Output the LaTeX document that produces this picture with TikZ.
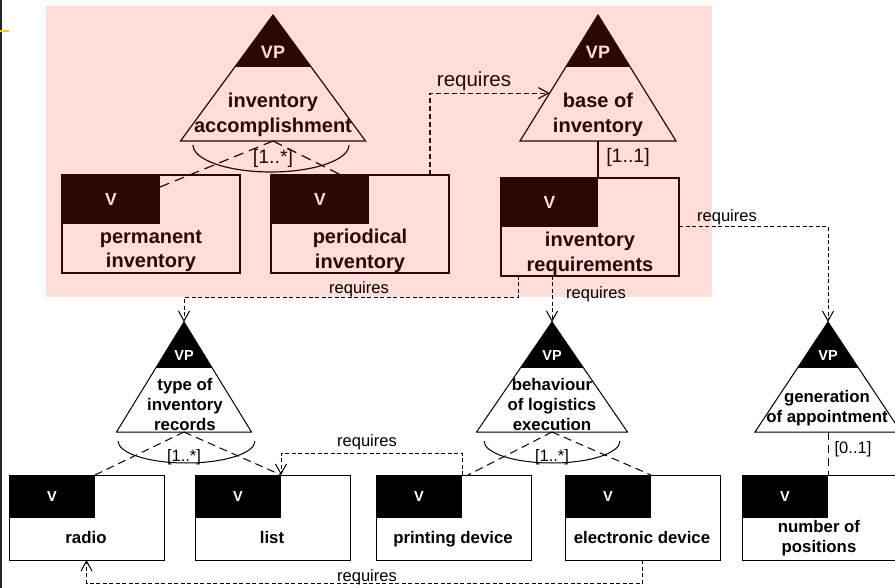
\documentclass[tikz,border=0pt]{standalone}
\usepackage{fontspec}
\setmainfont{Liberation Sans}
\usetikzlibrary{arrows.meta,calc}

\definecolor{pinkbg}{RGB}{255,221,216}
\definecolor{darkbrown}{RGB}{43,8,3}
\definecolor{markeryellow}{RGB}{250,208,0}

\tikzset{
  vplabel/.style={inner sep=0pt, font=\fontsize{14.5}{16}\selectfont\bfseries},
  boxframe/.style={draw, rectangle, inner sep=0pt, outer sep=0pt},
  vblock/.style={fill, rectangle, inner sep=0pt, outer sep=0pt, font=\fontsize{14.5}{16}\selectfont\bfseries},
  nametext/.style={align=center, inner sep=0pt, font=\fontsize{16.8}{20}\selectfont\bfseries},
  multtext/.style={inner sep=0pt, font=\fontsize{16.5}{20}\selectfont},
  reqtext/.style={inner sep=0pt, font=\fontsize{16.5}{20}\selectfont},
  altline/.style={dash pattern=on 8pt off 5pt},
  reqline/.style={dash pattern=on 4pt off 2.5pt, -{Straight Barb[length=10pt,width=11pt]}},
}

% variation point: name, apex x, apex y, half width, base y, band y
\newcommand{\vptri}[6]{%
  \coordinate (#1-apex) at (#2,#3);
  \coordinate (#1-l) at ({#2-#4},#5);
  \coordinate (#1-r) at ({#2+#4},#5);
  \coordinate (#1-b) at (#2,#5);
  \pgfmathsetmacro{\bandfrac}{(#6-#3)/(#5-#3)}
  \fill (#1-apex) -- ($(#1-apex)!\bandfrac!(#1-l)$) -- ($(#1-apex)!\bandfrac!(#1-r)$) -- cycle;
  \draw (#1-apex) -- (#1-l) -- (#1-r) -- cycle;
  \pgfmathsetmacro{\vpy}{#3+0.72*(#6-#3)}
  \node[vplabel] (#1-vp) at (#2,\vpy) {VP};
}

% variant: name, x, y, width, height, block width, block height
\newcommand{\variantbox}[7]{%
  \node[boxframe, minimum width=#4, minimum height=#5, anchor=north west] (#1) at (#2,#3) {};
  \node[vblock, minimum width=#6, minimum height=#7, anchor=north west] (#1-v) at (#1.north west) {V};
}

\begin{document}
\begin{tikzpicture}[x=1pt,y=-1pt]
\useasboundingbox (0,0) rectangle (895,588);
\fill[pinkbg] (46,6) rectangle (712,297);
\fill[black!85] (0,0) rectangle (2,588);
\draw[markeryellow, line width=2pt] (0,31) -- (9,31);

% upper part
\begin{scope}[darkbrown, line width=1.2pt,
  vplabel/.append style={text=pinkbg, font=\fontsize{18}{20}\selectfont\bfseries},
  vblock/.append style={text=pinkbg, font=\fontsize{17.5}{20}\selectfont\bfseries},
  nametext/.append style={font=\fontsize{20}{24.5}\selectfont\bfseries},
  multtext/.append style={font=\fontsize{19.5}{24}\selectfont},
  reqtext/.append style={font=\fontsize{20.5}{24}\selectfont},
  altline/.append style={dash pattern=on 10pt off 6pt},
  reqline/.append style={dash pattern=on 5pt off 3pt}]

\vptri{ia}{273}{15}{92.5}{141}{67}
\node[nametext] (ia-name) at (273,115) {inventory\\accomplishment};
\vptri{bi}{598}{15}{78}{141}{67}
\node[nametext] (bi-name) at (598,115) {base of\\inventory};

\variantbox{perm}{62}{175}{178}{98}{98}{49}
\node[nametext] (perm-name) at (151,251) {permanent\\inventory};
\variantbox{peri}{271}{175}{178}{98}{98}{49}
\node[nametext] (peri-name) at (360,251) {periodical\\inventory};
\variantbox{ireq}{501}{178}{178}{98}{97}{49}
\node[nametext] (ireq-name) at (590,254) {inventory\\requirements};

\draw ($(ia-b)+(-80,4)$) arc[start angle=180, end angle=0, x radius=78, y radius=27];
\node[multtext] (ia-mult) at (273,158) {[1..*]};
\draw[altline] (ia-b) -- ($(perm-v.north east)+(0,12)$);
\draw[altline] (ia-b) -- ($(peri.north west)+(70,0)$);

\draw (bi-b) -- (ireq-v.north east);
\node[multtext] (bi-mult) at (628,157) {[1..1]};

\draw[reqline] ($(peri.north west)+(159,0)$) |- ($(bi-apex)!0.62!(bi-l)$);
\node[reqtext] (req-a) at (474,81) {requires};
\end{scope}

% lower part
\begin{scope}[black, line width=1pt,
  vplabel/.append style={text=white},
  vblock/.append style={text=white}]

\vptri{tr}{184}{322}{67.5}{432}{368}
\node[nametext] (tr-name) at (185,404) {type of\\inventory\\records};
\vptri{be}{552}{322}{75.5}{432}{368}
\node[nametext] (be-name) at (552,404) {behaviour\\of logistics\\execution};
\vptri{ga}{828}{322}{73}{432}{368}
\node[nametext] (ga-name) at (827,408) {generation\\of appointment};

\variantbox{radio}{9}{475}{155}{85}{86}{43}
\node[nametext, anchor=base] (radio-name) at (86,543) {radio};
\variantbox{list}{195}{475}{155}{85}{86}{43}
\node[nametext, anchor=base] (list-name) at (272,543) {list};
\variantbox{pd}{376}{475}{155}{85}{86}{43}
\node[nametext, anchor=base] (pd-name) at (453,543) {printing device};
\variantbox{ed}{565}{475}{155}{85}{86}{43}
\node[nametext, anchor=base] (ed-name) at (642,543) {electronic device};
\variantbox{nop}{742}{475}{160}{85}{86}{43}
\node[nametext] (nop-name) at (819,538) {number of\\positions};

\draw ($(tr-b)+(-66,9)$) arc[start angle=180, end angle=0, x radius=68.5, y radius=22];
\node[multtext] (tr-mult) at (184,457) {[1..*]};
\draw[altline] (tr-b) -- (radio-v.north east);
\draw[altline] (tr-b) -- (list-v.north east);

\draw ($(be-b)+(-68,9)$) arc[start angle=180, end angle=0, x radius=68, y radius=22];
\node[multtext] (be-mult) at (552,457) {[1..*]};
\draw[altline] (be-b) -- ($(pd-v.north east)+(6,0)$);
\draw[altline] (be-b) -- (ed-v.north east);

\draw[altline] (ga-b) -- (nop-v.north east);
\node[multtext] (ga-mult) at (853,449) {[0..1]};

% requires dependencies
\draw[reqline] (ireq.east) -| (ga-apex);
\node[reqtext] (req-b) at (727,217) {requires};
\draw[reqline] ($(ireq.south west)+(17,0)$) -- ++(0,22) -| (tr-apex);
\node[reqtext] (req-c) at (359,289) {requires};
\draw[reqline] ($(ireq.south west)+(51,0)$) -- (be-apex);
\node[reqtext] (req-d) at (596,294) {requires};
\draw[reqline] (pd-v.north east) -- ++(0,-22) -| (list-v.north east);
\node[reqtext] (req-e) at (367,442) {requires};
\draw[reqline] (ed.south) -- ++(0,23) -| (radio.south);
\node[reqtext] (req-f) at (367,577) {requires};
\end{scope}
\end{tikzpicture}
\end{document}
